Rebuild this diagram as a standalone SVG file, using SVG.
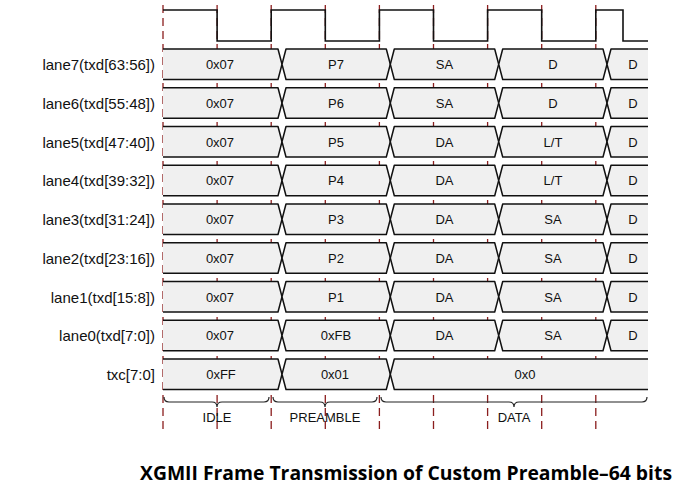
<svg xmlns="http://www.w3.org/2000/svg" xmlns:xlink="http://www.w3.org/1999/xlink" width="682" height="490" viewBox="0 0 682 490">
<style>
.grid line{stroke:#8b1e1e;stroke-width:1.3;stroke-dasharray:8,5}
.seg{fill:#f0f0f0;stroke:#111;stroke-width:1.5;stroke-linejoin:round}
.clk{fill:none;stroke:#111;stroke-width:1.6}
.v{font-family:"Liberation Sans",Arial,sans-serif;font-size:13px;fill:#111;text-anchor:middle}
.lbl{font-family:"Liberation Sans",Arial,sans-serif;font-size:15px;fill:#111;text-anchor:end}
.br{fill:none;stroke:#222;stroke-width:1.2}
.title{font-family:"Open Sans","Noto Sans",sans-serif;font-weight:bold;font-size:19.5px;fill:#000}
</style>
<defs>
<path id="s0" class="seg" d="M163,0 H278 L282,15.25 L278,30.5 H163"/>
<path id="s1" class="seg" d="M286,0 H386.3 L390.3,15.25 L386.3,30.5 H286 L282,15.25 Z"/>
<path id="s2" class="seg" d="M394.3,0 H494.7 L498.7,15.25 L494.7,30.5 H394.3 L390.3,15.25 Z"/>
<path id="s3" class="seg" d="M502.7,0 H603 L607,15.25 L603,30.5 H502.7 L498.7,15.25 Z"/>
<path id="s4" class="seg" d="M648,0 H611 L607,15.25 L611,30.5 H648"/>
<path id="s2w" class="seg" d="M648,0 H394.3 L390.3,15.25 L394.3,30.5 H648"/>
<g id="lane"><use href="#s0"/><use href="#s1"/><use href="#s2"/><use href="#s3"/><use href="#s4"/></g>
</defs>
<rect width="682" height="490" fill="#fff"/>
<g class="grid" id="grid">
<line x1="163" y1="5" x2="163" y2="433"/>
<line x1="217.1" y1="5" x2="217.1" y2="433"/>
<line x1="271.2" y1="5" x2="271.2" y2="433"/>
<line x1="325.3" y1="5" x2="325.3" y2="433"/>
<line x1="379.4" y1="5" x2="379.4" y2="433"/>
<line x1="433.5" y1="5" x2="433.5" y2="433"/>
<line x1="487.6" y1="5" x2="487.6" y2="433"/>
<line x1="541.7" y1="5" x2="541.7" y2="433"/>
<line x1="595.8" y1="5" x2="595.8" y2="433"/>
</g>
<g id="clock">
<path class="clk" d="M163,10 H217.1 V41 H271.2 V10 H325.3 V41 H379.4 V10 H433.5 V41 H487.6 V10 H541.7 V41 H595.8 V10 H623 V41 H648"/>
</g>
<g id="lane7" transform="translate(0,49)">
<text class="lbl" x="155" y="21">lane7(txd[63:56])</text>
<use href="#lane"/>
<text class="v" x="220" y="20">0x07</text><text class="v" x="336" y="20">P7</text><text class="v" x="444.5" y="20">SA</text><text class="v" x="553" y="20">D</text><text class="v" x="633" y="20">D</text>
</g>
<g id="lane6" transform="translate(0,87.75)">
<text class="lbl" x="155" y="21">lane6(txd[55:48])</text>
<use href="#lane"/>
<text class="v" x="220" y="20">0x07</text><text class="v" x="336" y="20">P6</text><text class="v" x="444.5" y="20">SA</text><text class="v" x="553" y="20">D</text><text class="v" x="633" y="20">D</text>
</g>
<g id="lane5" transform="translate(0,126.5)">
<text class="lbl" x="155" y="21">lane5(txd[47:40])</text>
<use href="#lane"/>
<text class="v" x="220" y="20">0x07</text><text class="v" x="336" y="20">P5</text><text class="v" x="444.5" y="20">DA</text><text class="v" x="553" y="20">L/T</text><text class="v" x="633" y="20">D</text>
</g>
<g id="lane4" transform="translate(0,165.25)">
<text class="lbl" x="155" y="21">lane4(txd[39:32])</text>
<use href="#lane"/>
<text class="v" x="220" y="20">0x07</text><text class="v" x="336" y="20">P4</text><text class="v" x="444.5" y="20">DA</text><text class="v" x="553" y="20">L/T</text><text class="v" x="633" y="20">D</text>
</g>
<g id="lane3" transform="translate(0,204)">
<text class="lbl" x="155" y="21">lane3(txd[31:24])</text>
<use href="#lane"/>
<text class="v" x="220" y="20">0x07</text><text class="v" x="336" y="20">P3</text><text class="v" x="444.5" y="20">DA</text><text class="v" x="553" y="20">SA</text><text class="v" x="633" y="20">D</text>
</g>
<g id="lane2" transform="translate(0,242.75)">
<text class="lbl" x="155" y="21">lane2(txd[23:16])</text>
<use href="#lane"/>
<text class="v" x="220" y="20">0x07</text><text class="v" x="336" y="20">P2</text><text class="v" x="444.5" y="20">DA</text><text class="v" x="553" y="20">SA</text><text class="v" x="633" y="20">D</text>
</g>
<g id="lane1" transform="translate(0,281.5)">
<text class="lbl" x="155" y="21">lane1(txd[15:8])</text>
<use href="#lane"/>
<text class="v" x="220" y="20">0x07</text><text class="v" x="336" y="20">P1</text><text class="v" x="444.5" y="20">DA</text><text class="v" x="553" y="20">SA</text><text class="v" x="633" y="20">D</text>
</g>
<g id="lane0" transform="translate(0,320.25)">
<text class="lbl" x="155" y="21">lane0(txd[7:0])</text>
<use href="#lane"/>
<text class="v" x="220" y="20">0x07</text><text class="v" x="336" y="20">0xFB</text><text class="v" x="444.5" y="20">DA</text><text class="v" x="553" y="20">SA</text><text class="v" x="633" y="20">D</text>
</g>
<g id="txc" transform="translate(0,359)">
<text class="lbl" x="155" y="21">txc[7:0]</text>
<use href="#s0"/><use href="#s1"/><use href="#s2w"/>
<text class="v" x="221" y="20">0xFF</text><text class="v" x="335" y="20">0x01</text><text class="v" x="525" y="20">0x0</text>
</g>
<g id="phases">
<path class="br" d="M164,397 Q164,402 169,402 H212 Q217,402 217,407 Q217,402 222,402 H264 Q269,402 269,397"/>
<path class="br" d="M273,397 Q273,402 278,402 H320 Q325,402 325,407 Q325,402 330,402 H372 Q377,402 377,397"/>
<path class="br" d="M381,397 Q381,402 386,402 H509 Q514,402 514,407 Q514,402 519,402 H642 Q647,402 647,397"/>
<text class="v" x="217" y="422">IDLE</text>
<text class="v" x="325" y="422">PREAMBLE</text>
<text class="v" x="514" y="422">DATA</text>
</g>
<text class="title" x="140" y="480" textLength="532" lengthAdjust="spacingAndGlyphs">XGMII Frame Transmission of Custom Preamble–64 bits</text>
</svg>
